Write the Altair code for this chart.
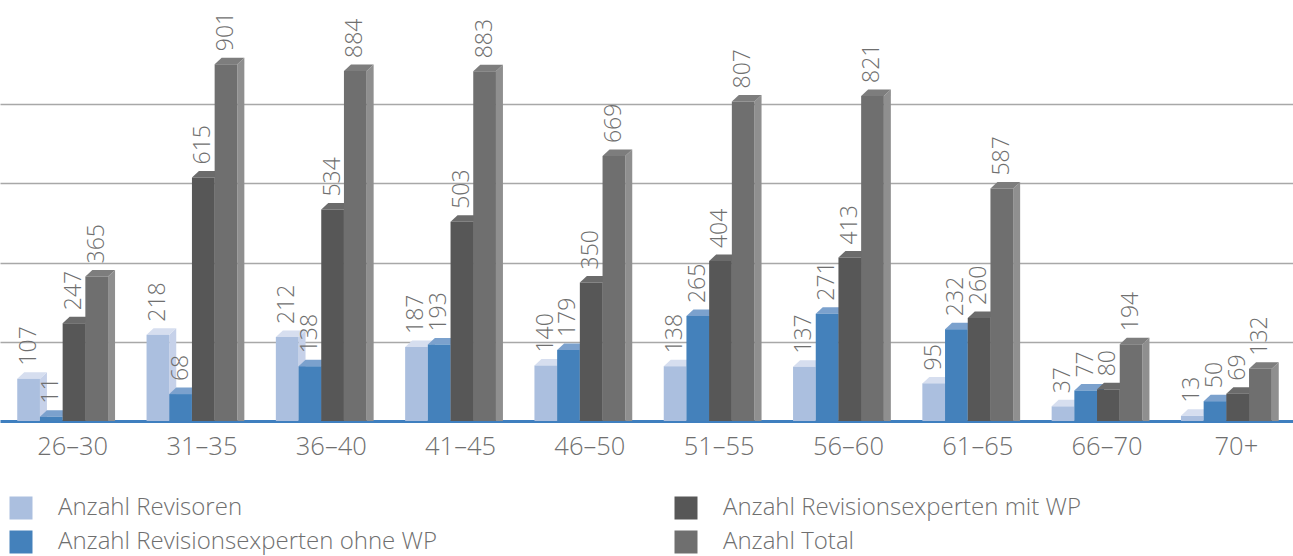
import altair as alt
import pandas as pd

# ---- data ----
altersgruppen = ["26–30", "31–35", "36–40", "41–45", "46–50",
                 "51–55", "56–60", "61–65", "66–70", "70+"]
serien = ["Anzahl Revisoren", "Anzahl Revisionsexperten ohne WP",
          "Anzahl Revisionsexperten mit WP", "Anzahl Total"]
revisoren = [107, 218, 212, 187, 140, 138, 137, 95, 37, 13]
ohne_wp = [11, 68, 138, 193, 179, 265, 271, 232, 77, 50]
mit_wp = [247, 615, 534, 503, 350, 404, 413, 260, 80, 69]
total = [365, 901, 884, 883, 669, 807, 821, 587, 194, 132]
gitter = [200, 400, 600, 800]

# ---- styles ----
front_colors = ["#abbfdf", "#4481bb", "#575757", "#6f6f6f"]
top_colors = ["#d6deef", "#7ba1cd", "#6b6b6b", "#7d7d7d"]
side_colors = ["#c6d1e9", "#3b72a8", "#4a4a4a", "#8f8f8f"]
text_color = "#6f6f6f"
FONT = "Open Sans"

# 3D faces as custom symbol paths (size=4 -> 1 path unit = 1 px)
TOP_PATH = "M -11.35 0 L 11.35 0 L 18.35 -6.5 L -4.35 -6.5 Z"
SIDE_PATH = "M 11.35 0 L 18.35 -6.5 L 18.35 1000 L 11.35 1000 Z"

rows = []
for i, g in enumerate(altersgruppen):
    for s, vals in zip(serien, [revisoren, ohne_wp, mit_wp, total]):
        rows.append({"Altersgruppe": g, "Serie": s, "Wert": vals[i]})
df = pd.DataFrame(rows)

base = alt.Chart(df).encode(
    x=alt.X(
        "Altersgruppe:N", sort=altersgruppen,
        scale=alt.Scale(paddingInner=0, paddingOuter=0),
        axis=alt.Axis(title=None, labelAngle=0, labelFontSize=25.5, labelColor=text_color,
                      labelFont=FONT, labelFontWeight=300, ticks=False,
                      domainColor="#3f7fbf", domainWidth=3, labelPadding=13,
                      labelOffset=8, grid=False),
    ),
    xOffset=alt.XOffset(
        "Serie:N", sort=serien,
        scale=alt.Scale(paddingInner=0, paddingOuter=0.848, align=0.448),
    ),
    y=alt.Y(
        "Wert:Q", scale=alt.Scale(domain=[0, 1000], nice=False),
        axis=alt.Axis(title=None, labels=False, ticks=False, domain=False,
                      values=gitter, gridColor="#a8a8a8", gridWidth=1.5),
    ),
)

sides = base.mark_point(
    shape=SIDE_PATH, size=4, filled=True, opacity=1, strokeWidth=0, clip=True
).encode(color=alt.Color("Serie:N", scale=alt.Scale(domain=serien, range=side_colors), legend=None))

tops = base.mark_point(
    shape=TOP_PATH, size=4, filled=True, opacity=1, strokeWidth=0
).encode(color=alt.Color("Serie:N", scale=alt.Scale(domain=serien, range=top_colors), legend=None))

fronts = base.mark_bar(opacity=1).encode(
    color=alt.Color(
        "Serie:N", scale=alt.Scale(domain=serien, range=front_colors),
        legend=alt.Legend(
            title=None, orient="none", legendX=9, legendY=471, columns=2,
            symbolType="square", symbolSize=529, symbolStrokeWidth=0,
            labelFontSize=24, labelColor=text_color, labelFont=FONT,
            labelFontWeight=300, labelOffset=25, labelLimit=700,
            columnPadding=237, rowPadding=10,
        ),
    )
)

labels = base.mark_text(
    angle=270, align="left", baseline="middle", dx=13, dy=0,
    fontSize=23, color=text_color, font=FONT, fontWeight=300,
).encode(text="Wert:Q")

chart = (
    alt.layer(sides, tops, fronts, labels)
    .resolve_scale(color="independent")
    .properties(
        width=1293, height=396,
        autosize=alt.AutoSizeParams(type="none"),
        padding={"left": 0, "top": 25, "right": 0, "bottom": 135},
    )
    .configure(font=FONT)
    .configure_view(stroke=None, strokeWidth=0)
)

chart.save("out.html", embed_options={"renderer": "svg", "actions": False})
